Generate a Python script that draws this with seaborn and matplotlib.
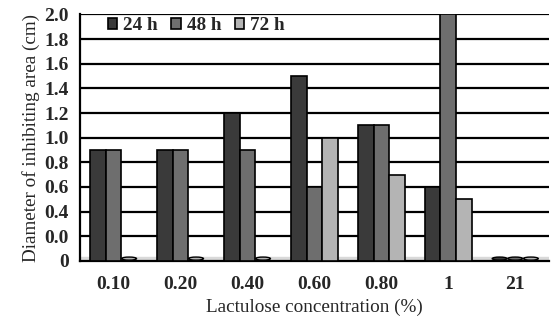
import matplotlib
matplotlib.use("Agg")
import matplotlib.pyplot as plt
from matplotlib.patches import Ellipse
import seaborn as sns
import pandas as pd
import numpy as np

categories = ["0.10", "0.20", "0.40", "0.60", "0.80", "1", "21"]
h24 = [0.9, 0.9, 1.2, 1.5, 1.1, 0.6, 0.0]
h48 = [0.9, 0.9, 0.9, 0.6, 1.1, 2.0, 0.0]
h72 = [0.0, 0.0, 0.0, 1.0, 0.7, 0.5, 0.0]
series = ["24 h", "48 h", "72 h"]
ytick_vals = [0, 0.2, 0.4, 0.6, 0.8, 1.0, 1.2, 1.4, 1.6, 1.8, 2.0]
ytick_labels = ["0", "0.0", "0.4", "0.6", "0.8", "1.0", "1.2", "1.4", "1.6", "1.8", "2.0"]

df = pd.DataFrame({
    "cat": categories * 3,
    "time": [series[0]] * 7 + [series[1]] * 7 + [series[2]] * 7,
    "val": h24 + h48 + h72,
})

sns.set_theme(style="white")
plt.rcParams['font.family'] = ['Liberation Serif', 'DejaVu Serif']

fig = plt.figure(figsize=(5.56, 3.22), dpi=100)
ax = fig.add_axes([0.1439, 0.19, 0.843, 0.765])

palette = {"24 h": "#3a3a3a", "48 h": "#6e6e6e", "72 h": "#b4b4b4"}
sns.barplot(data=df, x="cat", y="val", hue="time", palette=palette, ax=ax,
            width=0.7, edgecolor="black", linewidth=1.2, saturation=1,
            zorder=3)

ax.set_ylim(0, 2.0)
ax.set_xlim(-0.5, 6.5)
ax.axhspan(0, 0.035, color="#d9d9d9", zorder=1)

# flat discs for zero-height bars
for p in list(ax.patches):
    if hasattr(p, "get_height") and p.get_height() == 0 and p.get_width() > 0 and p.get_width() < 1:
        cx = p.get_x() + p.get_width() / 2
        e = Ellipse((cx, 0.018), p.get_width() * 0.95, 0.025, facecolor=p.get_facecolor(),
                    edgecolor="black", linewidth=1.0, zorder=4, clip_on=False)
        ax.add_patch(e)

ax.set_yticks(ytick_vals)
ax.set_yticklabels(ytick_labels, fontsize=14, fontweight="bold")
for v in ytick_vals[1:]:
    ax.axhline(v, color="black", linewidth=1.6, zorder=2)

ax.set_xticks(range(len(categories)))
ax.set_xticklabels(categories, fontsize=14, fontweight="bold")
ax.set_xticks(np.arange(-0.5, 7.0, 1.0), minor=True)
ax.tick_params(axis="x", which="major", length=0, pad=11)
ax.tick_params(axis="x", which="minor", length=7, width=1.6, color="black", direction="out")
ax.tick_params(axis="y", length=6, width=1.6, color="black", direction="out", pad=2)

for s in ["right", "top"]:
    ax.spines[s].set_visible(False)
for s in ["left", "bottom"]:
    ax.spines[s].set_color("black")
    ax.spines[s].set_linewidth(1.6)

ax.set_xlabel("Lactulose concentration (%)", fontsize=13.8, labelpad=4)
ax.set_ylabel("Diameter of inhibiting area (cm)", fontsize=13.8, labelpad=3)

leg = ax.legend(loc="upper left", bbox_to_anchor=(0.035, 1.035), ncol=3, frameon=False,
                handlelength=0.5, handleheight=0.5, handletextpad=0.3, columnspacing=0.7,
                prop={"size": 13.8, "weight": "bold"}, borderaxespad=0.2)
leg.set_zorder(5)
for t in leg.get_texts():
    t.set_fontweight("bold")

fig.savefig("out.png", dpi=100, facecolor="white")
